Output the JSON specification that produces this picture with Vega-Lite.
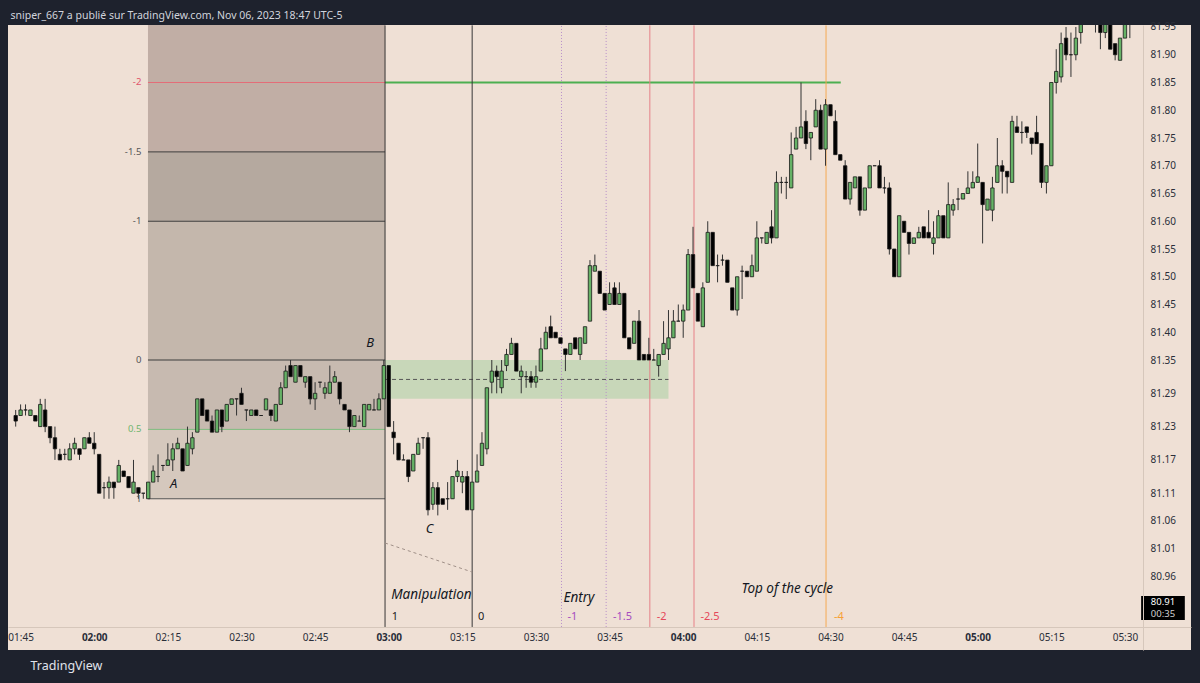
{
"$schema": "https://vega.github.io/schema/vega-lite/v6.json",
"width": 1183,
"height": 625,
"autosize": {"type": "none"},
"padding": {"left": 8, "top": 25, "right": 9, "bottom": 33},
"background": "#1e222d",
"view": {"fill": "#efe0d5", "stroke": null},
"config": {"font": "Noto Sans", "axis": {"labelOverlap": false, "grid": false, "ticks": false}},
"datasets": {
"zones": [
{"t": 130.95, "t2": 179.25, "p": 81.725, "p2": 82.1, "col": "#c1aea5"},
{"t": 130.95, "t2": 179.25, "p": 81.6, "p2": 81.725, "col": "#b5a99f"},
{"t": 130.95, "t2": 179.25, "p": 81.35, "p2": 81.6, "col": "#c4b7ac"},
{"t": 130.95, "t2": 179.25, "p": 81.225, "p2": 81.35, "col": "#c7bab0"},
{"t": 130.95, "t2": 179.25, "p": 81.1, "p2": 81.225, "col": "#d5c8bd"},
{"t": 179.25, "t2": 237.0, "p": 81.28, "p2": 81.35, "col": "#c8d7b9"},
{"t": 333.3, "t2": 342.2, "p": 80.8815, "p2": 80.9248, "col": "#000000"}
],
"hlines": [
{"t": 130.95, "t2": 179.25, "p": 81.85, "col": "#e46a78", "w": 1, "style": "solid"},
{"t": 130.95, "t2": 179.25, "p": 81.725, "col": "#3d3d3d", "w": 1, "style": "solid"},
{"t": 130.95, "t2": 179.25, "p": 81.6, "col": "#3d3d3d", "w": 1, "style": "solid"},
{"t": 130.95, "t2": 179.25, "p": 81.35, "col": "#3d3d3d", "w": 1, "style": "solid"},
{"t": 130.95, "t2": 179.25, "p": 81.225, "col": "#7cbd7c", "w": 1, "style": "solid"},
{"t": 130.95, "t2": 179.25, "p": 81.1, "col": "#555555", "w": 1, "style": "solid"},
{"t": 179.25, "t2": 272.1, "p": 81.85, "col": "#4caf50", "w": 2, "style": "solid"},
{"t": 179.25, "t2": 237.0, "p": 81.315, "col": "#555555", "w": 1, "style": "dash"}
],
"vlines": [
{"t": 179.25, "p": 80.869, "p2": 81.953, "col": "#333333", "style": "solid"},
{"t": 197.0, "p": 80.869, "p2": 81.953, "col": "#333333", "style": "solid"},
{"t": 215.2, "p": 80.869, "p2": 81.953, "col": "#b88fc9", "style": "dot"},
{"t": 224.3, "p": 80.869, "p2": 81.953, "col": "#b88fc9", "style": "dot"},
{"t": 233.2, "p": 80.869, "p2": 81.953, "col": "#e57f86", "style": "solid"},
{"t": 242.2, "p": 80.869, "p2": 81.953, "col": "#e57f86", "style": "solid"},
{"t": 269.1, "p": 80.869, "p2": 81.953, "col": "#f5a84f", "style": "solid"}
],
"diag": [
{"t": 179.25, "t2": 197.0, "p": 81.0203, "p2": 80.968}
],
"candles": [
{"t":104,"o":81.25,"h":81.26,"l":81.23,"c":81.24},
{"t":105,"o":81.25,"h":81.27,"l":81.25,"c":81.26},
{"t":106,"o":81.26,"h":81.27,"l":81.25,"c":81.26},
{"t":107,"o":81.25,"h":81.26,"l":81.25,"c":81.26},
{"t":108,"o":81.25,"h":81.25,"l":81.24,"c":81.24},
{"t":109,"o":81.23,"h":81.28,"l":81.23,"c":81.27},
{"t":110,"o":81.26,"h":81.28,"l":81.22,"c":81.23},
{"t":111,"o":81.23,"h":81.23,"l":81.20,"c":81.21},
{"t":112,"o":81.21,"h":81.23,"l":81.17,"c":81.19},
{"t":113,"o":81.18,"h":81.19,"l":81.17,"c":81.17},
{"t":114,"o":81.18,"h":81.19,"l":81.17,"c":81.18},
{"t":115,"o":81.17,"h":81.20,"l":81.17,"c":81.19},
{"t":116,"o":81.19,"h":81.21,"l":81.18,"c":81.20},
{"t":117,"o":81.19,"h":81.19,"l":81.17,"c":81.18},
{"t":118,"o":81.19,"h":81.21,"l":81.19,"c":81.21},
{"t":119,"o":81.21,"h":81.22,"l":81.20,"c":81.20},
{"t":120,"o":81.20,"h":81.22,"l":81.18,"c":81.19},
{"t":121,"o":81.18,"h":81.18,"l":81.11,"c":81.11},
{"t":122,"o":81.12,"h":81.13,"l":81.10,"c":81.12},
{"t":123,"o":81.12,"h":81.14,"l":81.10,"c":81.13},
{"t":124,"o":81.13,"h":81.13,"l":81.10,"c":81.12},
{"t":125,"o":81.13,"h":81.17,"l":81.13,"c":81.16},
{"t":126,"o":81.15,"h":81.15,"l":81.14,"c":81.14},
{"t":127,"o":81.14,"h":81.14,"l":81.12,"c":81.12},
{"t":128,"o":81.11,"h":81.17,"l":81.11,"c":81.13},
{"t":129,"o":81.12,"h":81.12,"l":81.10,"c":81.11},
{"t":130,"o":81.11,"h":81.11,"l":81.10,"c":81.11},
{"t":131,"o":81.10,"h":81.13,"l":81.10,"c":81.13},
{"t":132,"o":81.13,"h":81.16,"l":81.13,"c":81.15},
{"t":133,"o":81.14,"h":81.18,"l":81.13,"c":81.14},
{"t":134,"o":81.16,"h":81.16,"l":81.15,"c":81.16},
{"t":135,"o":81.16,"h":81.20,"l":81.16,"c":81.17},
{"t":136,"o":81.17,"h":81.20,"l":81.15,"c":81.19},
{"t":137,"o":81.19,"h":81.21,"l":81.19,"c":81.20},
{"t":138,"o":81.19,"h":81.19,"l":81.15,"c":81.15},
{"t":139,"o":81.16,"h":81.23,"l":81.16,"c":81.20},
{"t":140,"o":81.19,"h":81.22,"l":81.18,"c":81.21},
{"t":141,"o":81.22,"h":81.28,"l":81.22,"c":81.28},
{"t":142,"o":81.28,"h":81.28,"l":81.25,"c":81.25},
{"t":143,"o":81.26,"h":81.26,"l":81.24,"c":81.24},
{"t":144,"o":81.24,"h":81.25,"l":81.22,"c":81.22},
{"t":145,"o":81.22,"h":81.26,"l":81.22,"c":81.26},
{"t":146,"o":81.26,"h":81.26,"l":81.22,"c":81.23},
{"t":147,"o":81.24,"h":81.27,"l":81.24,"c":81.27},
{"t":148,"o":81.27,"h":81.28,"l":81.27,"c":81.28},
{"t":149,"o":81.28,"h":81.28,"l":81.25,"c":81.28},
{"t":150,"o":81.29,"h":81.30,"l":81.27,"c":81.27},
{"t":151,"o":81.26,"h":81.26,"l":81.24,"c":81.26},
{"t":152,"o":81.25,"h":81.26,"l":81.25,"c":81.26},
{"t":153,"o":81.26,"h":81.26,"l":81.25,"c":81.25},
{"t":154,"o":81.25,"h":81.25,"l":81.25,"c":81.25},
{"t":155,"o":81.26,"h":81.28,"l":81.26,"c":81.28},
{"t":156,"o":81.26,"h":81.26,"l":81.24,"c":81.25},
{"t":157,"o":81.24,"h":81.27,"l":81.24,"c":81.27},
{"t":158,"o":81.27,"h":81.31,"l":81.27,"c":81.30},
{"t":159,"o":81.30,"h":81.34,"l":81.30,"c":81.33},
{"t":160,"o":81.34,"h":81.35,"l":81.32,"c":81.32},
{"t":161,"o":81.31,"h":81.34,"l":81.31,"c":81.34},
{"t":162,"o":81.34,"h":81.34,"l":81.32,"c":81.32},
{"t":163,"o":81.31,"h":81.32,"l":81.30,"c":81.32},
{"t":164,"o":81.32,"h":81.32,"l":81.27,"c":81.28},
{"t":165,"o":81.28,"h":81.31,"l":81.26,"c":81.29},
{"t":166,"o":81.31,"h":81.31,"l":81.30,"c":81.31},
{"t":167,"o":81.29,"h":81.31,"l":81.28,"c":81.30},
{"t":168,"o":81.29,"h":81.34,"l":81.29,"c":81.31},
{"t":169,"o":81.31,"h":81.33,"l":81.31,"c":81.32},
{"t":170,"o":81.31,"h":81.31,"l":81.27,"c":81.28},
{"t":171,"o":81.27,"h":81.27,"l":81.26,"c":81.26},
{"t":172,"o":81.26,"h":81.26,"l":81.22,"c":81.23},
{"t":173,"o":81.23,"h":81.25,"l":81.23,"c":81.25},
{"t":174,"o":81.24,"h":81.25,"l":81.24,"c":81.24},
{"t":175,"o":81.23,"h":81.27,"l":81.23,"c":81.27},
{"t":176,"o":81.26,"h":81.27,"l":81.26,"c":81.27},
{"t":177,"o":81.26,"h":81.28,"l":81.26,"c":81.26},
{"t":178,"o":81.26,"h":81.29,"l":81.26,"c":81.28},
{"t":179,"o":81.28,"h":81.35,"l":81.28,"c":81.34},
{"t":180,"o":81.34,"h":81.34,"l":81.23,"c":81.23},
{"t":181,"o":81.22,"h":81.24,"l":81.18,"c":81.21},
{"t":182,"o":81.20,"h":81.20,"l":81.17,"c":81.17},
{"t":183,"o":81.17,"h":81.18,"l":81.17,"c":81.17},
{"t":184,"o":81.17,"h":81.17,"l":81.13,"c":81.14},
{"t":185,"o":81.15,"h":81.18,"l":81.15,"c":81.18},
{"t":186,"o":81.18,"h":81.21,"l":81.18,"c":81.20},
{"t":187,"o":81.21,"h":81.21,"l":81.19,"c":81.21},
{"t":188,"o":81.21,"h":81.22,"l":81.07,"c":81.08},
{"t":189,"o":81.09,"h":81.13,"l":81.08,"c":81.12},
{"t":190,"o":81.12,"h":81.13,"l":81.07,"c":81.09},
{"t":191,"o":81.10,"h":81.10,"l":81.09,"c":81.09},
{"t":192,"o":81.10,"h":81.13,"l":81.08,"c":81.10},
{"t":193,"o":81.10,"h":81.14,"l":81.10,"c":81.14},
{"t":194,"o":81.14,"h":81.17,"l":81.13,"c":81.15},
{"t":195,"o":81.13,"h":81.15,"l":81.11,"c":81.14},
{"t":196,"o":81.14,"h":81.15,"l":81.08,"c":81.08},
{"t":197,"o":81.08,"h":81.13,"l":81.08,"c":81.13},
{"t":198,"o":81.13,"h":81.18,"l":81.13,"c":81.15},
{"t":199,"o":81.16,"h":81.22,"l":81.16,"c":81.20},
{"t":200,"o":81.19,"h":81.30,"l":81.18,"c":81.30},
{"t":201,"o":81.31,"h":81.35,"l":81.29,"c":81.33},
{"t":202,"o":81.33,"h":81.34,"l":81.29,"c":81.32},
{"t":203,"o":81.30,"h":81.35,"l":81.29,"c":81.33},
{"t":204,"o":81.34,"h":81.37,"l":81.33,"c":81.36},
{"t":205,"o":81.36,"h":81.39,"l":81.36,"c":81.38},
{"t":206,"o":81.38,"h":81.38,"l":81.33,"c":81.33},
{"t":207,"o":81.32,"h":81.34,"l":81.29,"c":81.33},
{"t":208,"o":81.32,"h":81.33,"l":81.30,"c":81.32},
{"t":209,"o":81.32,"h":81.33,"l":81.30,"c":81.31},
{"t":210,"o":81.31,"h":81.34,"l":81.30,"c":81.32},
{"t":211,"o":81.33,"h":81.39,"l":81.33,"c":81.37},
{"t":212,"o":81.37,"h":81.41,"l":81.37,"c":81.40},
{"t":213,"o":81.41,"h":81.43,"l":81.39,"c":81.39},
{"t":214,"o":81.40,"h":81.40,"l":81.39,"c":81.39},
{"t":215,"o":81.39,"h":81.39,"l":81.38,"c":81.38},
{"t":216,"o":81.37,"h":81.37,"l":81.33,"c":81.36},
{"t":217,"o":81.36,"h":81.38,"l":81.36,"c":81.38},
{"t":218,"o":81.39,"h":81.39,"l":81.37,"c":81.37},
{"t":219,"o":81.36,"h":81.39,"l":81.35,"c":81.39},
{"t":220,"o":81.38,"h":81.41,"l":81.38,"c":81.41},
{"t":221,"o":81.42,"h":81.53,"l":81.42,"c":81.52},
{"t":222,"o":81.51,"h":81.54,"l":81.51,"c":81.52},
{"t":223,"o":81.51,"h":81.51,"l":81.47,"c":81.47},
{"t":224,"o":81.47,"h":81.47,"l":81.44,"c":81.44},
{"t":225,"o":81.45,"h":81.49,"l":81.45,"c":81.47},
{"t":226,"o":81.48,"h":81.49,"l":81.45,"c":81.45},
{"t":227,"o":81.45,"h":81.49,"l":81.45,"c":81.47},
{"t":228,"o":81.47,"h":81.47,"l":81.39,"c":81.39},
{"t":229,"o":81.39,"h":81.39,"l":81.37,"c":81.37},
{"t":230,"o":81.38,"h":81.42,"l":81.38,"c":81.42},
{"t":231,"o":81.42,"h":81.44,"l":81.35,"c":81.35},
{"t":232,"o":81.36,"h":81.36,"l":81.35,"c":81.35},
{"t":233,"o":81.36,"h":81.39,"l":81.35,"c":81.35},
{"t":234,"o":81.35,"h":81.37,"l":81.35,"c":81.35},
{"t":235,"o":81.34,"h":81.36,"l":81.32,"c":81.36},
{"t":236,"o":81.36,"h":81.42,"l":81.36,"c":81.38},
{"t":237,"o":81.37,"h":81.44,"l":81.35,"c":81.39},
{"t":238,"o":81.39,"h":81.44,"l":81.39,"c":81.42},
{"t":239,"o":81.42,"h":81.45,"l":81.42,"c":81.42},
{"t":240,"o":81.42,"h":81.45,"l":81.39,"c":81.44},
{"t":241,"o":81.44,"h":81.55,"l":81.44,"c":81.54},
{"t":242,"o":81.54,"h":81.59,"l":81.48,"c":81.48},
{"t":243,"o":81.47,"h":81.47,"l":81.42,"c":81.42},
{"t":244,"o":81.41,"h":81.49,"l":81.41,"c":81.48},
{"t":245,"o":81.49,"h":81.60,"l":81.49,"c":81.58},
{"t":246,"o":81.58,"h":81.58,"l":81.52,"c":81.52},
{"t":247,"o":81.52,"h":81.54,"l":81.49,"c":81.52},
{"t":248,"o":81.53,"h":81.54,"l":81.52,"c":81.53},
{"t":249,"o":81.53,"h":81.53,"l":81.49,"c":81.49},
{"t":250,"o":81.48,"h":81.48,"l":81.44,"c":81.44},
{"t":251,"o":81.44,"h":81.50,"l":81.43,"c":81.50},
{"t":252,"o":81.51,"h":81.52,"l":81.46,"c":81.51},
{"t":253,"o":81.51,"h":81.51,"l":81.50,"c":81.50},
{"t":254,"o":81.50,"h":81.54,"l":81.50,"c":81.52},
{"t":255,"o":81.51,"h":81.60,"l":81.51,"c":81.57},
{"t":256,"o":81.57,"h":81.57,"l":81.56,"c":81.57},
{"t":257,"o":81.56,"h":81.58,"l":81.56,"c":81.58},
{"t":258,"o":81.59,"h":81.62,"l":81.56,"c":81.57},
{"t":259,"o":81.57,"h":81.69,"l":81.57,"c":81.67},
{"t":260,"o":81.67,"h":81.68,"l":81.65,"c":81.67},
{"t":261,"o":81.67,"h":81.68,"l":81.64,"c":81.67},
{"t":262,"o":81.66,"h":81.76,"l":81.66,"c":81.72},
{"t":263,"o":81.73,"h":81.77,"l":81.73,"c":81.75},
{"t":264,"o":81.75,"h":81.85,"l":81.75,"c":81.77},
{"t":265,"o":81.78,"h":81.80,"l":81.73,"c":81.74},
{"t":266,"o":81.75,"h":81.76,"l":81.71,"c":81.76},
{"t":267,"o":81.77,"h":81.82,"l":81.77,"c":81.80},
{"t":268,"o":81.80,"h":81.81,"l":81.73,"c":81.73},
{"t":269,"o":81.73,"h":81.82,"l":81.70,"c":81.81},
{"t":270,"o":81.81,"h":81.81,"l":81.79,"c":81.79},
{"t":271,"o":81.78,"h":81.80,"l":81.72,"c":81.72},
{"t":272,"o":81.72,"h":81.72,"l":81.71,"c":81.71},
{"t":273,"o":81.70,"h":81.71,"l":81.64,"c":81.64},
{"t":274,"o":81.64,"h":81.67,"l":81.63,"c":81.67},
{"t":275,"o":81.66,"h":81.68,"l":81.66,"c":81.68},
{"t":276,"o":81.68,"h":81.68,"l":81.61,"c":81.62},
{"t":277,"o":81.62,"h":81.66,"l":81.62,"c":81.66},
{"t":278,"o":81.66,"h":81.70,"l":81.66,"c":81.70},
{"t":279,"o":81.70,"h":81.70,"l":81.70,"c":81.70},
{"t":280,"o":81.70,"h":81.71,"l":81.66,"c":81.66},
{"t":281,"o":81.66,"h":81.68,"l":81.65,"c":81.66},
{"t":282,"o":81.66,"h":81.67,"l":81.54,"c":81.55},
{"t":283,"o":81.55,"h":81.55,"l":81.50,"c":81.50},
{"t":284,"o":81.50,"h":81.61,"l":81.50,"c":81.61},
{"t":285,"o":81.60,"h":81.60,"l":81.58,"c":81.58},
{"t":286,"o":81.58,"h":81.58,"l":81.54,"c":81.56},
{"t":287,"o":81.56,"h":81.57,"l":81.56,"c":81.57},
{"t":288,"o":81.57,"h":81.59,"l":81.57,"c":81.58},
{"t":289,"o":81.59,"h":81.59,"l":81.57,"c":81.57},
{"t":290,"o":81.58,"h":81.62,"l":81.57,"c":81.57},
{"t":291,"o":81.56,"h":81.60,"l":81.54,"c":81.57},
{"t":292,"o":81.57,"h":81.62,"l":81.57,"c":81.61},
{"t":293,"o":81.61,"h":81.61,"l":81.57,"c":81.57},
{"t":294,"o":81.57,"h":81.67,"l":81.57,"c":81.63},
{"t":295,"o":81.62,"h":81.64,"l":81.61,"c":81.63},
{"t":296,"o":81.64,"h":81.66,"l":81.62,"c":81.64},
{"t":297,"o":81.64,"h":81.65,"l":81.64,"c":81.65},
{"t":298,"o":81.65,"h":81.69,"l":81.65,"c":81.66},
{"t":299,"o":81.66,"h":81.69,"l":81.66,"c":81.67},
{"t":300,"o":81.67,"h":81.74,"l":81.67,"c":81.68},
{"t":301,"o":81.67,"h":81.67,"l":81.56,"c":81.63},
{"t":302,"o":81.62,"h":81.64,"l":81.62,"c":81.64},
{"t":303,"o":81.62,"h":81.68,"l":81.60,"c":81.66},
{"t":304,"o":81.67,"h":81.75,"l":81.67,"c":81.70},
{"t":305,"o":81.70,"h":81.71,"l":81.65,"c":81.69},
{"t":306,"o":81.69,"h":81.69,"l":81.65,"c":81.68},
{"t":307,"o":81.67,"h":81.79,"l":81.67,"c":81.78},
{"t":308,"o":81.77,"h":81.79,"l":81.76,"c":81.76},
{"t":309,"o":81.76,"h":81.78,"l":81.74,"c":81.76},
{"t":310,"o":81.77,"h":81.77,"l":81.75,"c":81.76},
{"t":311,"o":81.75,"h":81.75,"l":81.72,"c":81.74},
{"t":312,"o":81.76,"h":81.79,"l":81.74,"c":81.74},
{"t":313,"o":81.74,"h":81.74,"l":81.66,"c":81.67},
{"t":314,"o":81.67,"h":81.70,"l":81.65,"c":81.70},
{"t":315,"o":81.70,"h":81.85,"l":81.70,"c":81.85},
{"t":316,"o":81.85,"h":81.91,"l":81.83,"c":81.87},
{"t":317,"o":81.86,"h":81.94,"l":81.85,"c":81.92},
{"t":318,"o":81.93,"h":81.95,"l":81.89,"c":81.90},
{"t":319,"o":81.90,"h":81.94,"l":81.86,"c":81.90},
{"t":320,"o":81.90,"h":81.95,"l":81.89,"c":81.93},
{"t":321,"o":81.94,"h":81.98,"l":81.92,"c":81.96},
{"t":322,"o":81.96,"h":82.00,"l":81.96,"c":81.99},
{"t":323,"o":81.99,"h":82.00,"l":81.96,"c":81.97},
{"t":324,"o":81.97,"h":81.99,"l":81.94,"c":81.97},
{"t":325,"o":81.97,"h":81.98,"l":81.91,"c":81.94},
{"t":326,"o":81.94,"h":81.98,"l":81.93,"c":81.97},
{"t":327,"o":81.97,"h":81.98,"l":81.91,"c":81.91},
{"t":328,"o":81.92,"h":81.92,"l":81.89,"c":81.90},
{"t":329,"o":81.89,"h":81.93,"l":81.89,"c":81.93},
{"t":330,"o":81.93,"h":81.97,"l":81.93,"c":81.96},
{"t":331,"o":81.96,"h":81.99,"l":81.93,"c":81.98}
],
"italicCenter": [
{"t": 136.2, "p": 81.1266, "txt": "A"},
{"t": 176.2, "p": 81.381, "txt": "B"},
{"t": 188.3, "p": 81.0455, "txt": "C"}
],
"italicLeft": [
{"t": 180.5, "p": 80.9266, "txt": "Manipulation"},
{"t": 215.6, "p": 80.9212, "txt": "Entry"},
{"t": 251.9, "p": 80.9374, "txt": "Top of the cycle"}
],
"fibLabels": [
{"t": 129.6, "p": 81.85, "txt": "-2", "col": "#e0566a"},
{"t": 129.6, "p": 81.725, "txt": "-1.5", "col": "#555555"},
{"t": 129.6, "p": 81.6, "txt": "-1", "col": "#555555"},
{"t": 129.6, "p": 81.35, "txt": "0", "col": "#555555"},
{"t": 129.6, "p": 81.225, "txt": "0.5", "col": "#6fb56f"},
{"t": 129.6, "p": 81.1, "txt": "1", "col": "#555555"}
],
"timeLabels": [
{"t": 180.6, "p": 80.887, "txt": "1", "col": "#222222"},
{"t": 198.2, "p": 80.887, "txt": "0", "col": "#222222"},
{"t": 216.4, "p": 80.887, "txt": "-1", "col": "#a64dbf"},
{"t": 225.7, "p": 80.887, "txt": "-1.5", "col": "#a64dbf"},
{"t": 234.6, "p": 80.887, "txt": "-2", "col": "#e5485a"},
{"t": 243.5, "p": 80.887, "txt": "-2.5", "col": "#e5485a"},
{"t": 270.7, "p": 80.887, "txt": "-4", "col": "#f7a035"}
],
"priceBox": [
{"t": 337.75, "p": 80.9135, "txt": "80.91", "col": "#ffffff", "wt": "bold"},
{"t": 337.75, "p": 80.8925, "txt": "00:35", "col": "#d0d0d0", "wt": "normal"}
]
},
"layer": [
{
"data": {"name": "zones"},
"mark": {"type": "rect", "clip": true},
"encoding": {
"x": {"field": "t", "type": "quantitative", "scale": {"domain": [103.45, 342.44], "nice": false, "zero": false},
"axis": {"orient": "bottom", "offset": -23, "values": [105,120,135,150,165,180,195,210,225,240,255,270,285,300,315,330], "tickCount": 60, "labelExpr": "utcFormat(datum.value * 60000, '%H:%M')", "labelFontWeight": {"condition": {"test": "datum.value % 60 === 0", "value": "bold"}, "value": "normal"}, "labelFont": "Noto Sans", "labelFontSize": 10, "labelColor": "#2a2e39", "labelPadding": 5, "labelFlush": false, "labelOverlap": false, "labelBound": false, "ticks": false, "tickSize": 0, "grid": false, "domain": true, "domainColor": "#d6c7bb", "title": "TradingView", "titleAnchor": "start", "titleAlign": "left", "titleAngle": 0, "titleX": 22, "titleY": 38, "titleBaseline": "middle", "titleColor": "#e0e3eb", "titleFontSize": 12.5, "titleFontWeight": "normal", "titleFont": "Noto Sans", "zindex": 1}},
"x2": {"field": "t2"},
"y": {"field": "p", "type": "quantitative", "scale": {"domain": [80.8275, 81.9536], "nice": false, "zero": false},
"axis": {"orient": "right", "offset": -48, "values": [80.96,81.01,81.06,81.11,81.17,81.23,81.29,81.35,81.4,81.45,81.5,81.55,81.6,81.65,81.7,81.75,81.8,81.85,81.9,81.95], "tickCount": 60, "format": ".2f", "labelFont": "Noto Sans", "labelFontSize": 10, "labelColor": "#2a2e39", "labelPadding": 7, "ticks": false, "tickSize": 0, "grid": false, "domain": true, "domainColor": "#d6c7bb", "labelOverlap": false, "labelBound": false, "labelFlush": false, "title": "sniper_667 a publié sur TradingView.com, Nov 06, 2023 18:47 UTC-5", "titleAngle": 0, "titleAlign": "left", "titleAnchor": "start", "titleBaseline": "alphabetic", "titleX": -1133, "titleY": -7, "titleColor": "#d1d4dc", "titleFontSize": 10.5, "titleFontWeight": "normal", "titleFont": "Noto Sans", "zindex": 1}},
"y2": {"field": "p2"},
"fill": {"field": "col", "type": "nominal", "scale": null}
}
},
{
"data": {"name": "hlines"},
"mark": {"type": "rule", "clip": true},
"encoding": {
"x": {"field": "t", "type": "quantitative"},
"x2": {"field": "t2"},
"y": {"field": "p", "type": "quantitative"},
"color": {"field": "col", "type": "nominal", "scale": null},
"strokeWidth": {"field": "w", "type": "quantitative", "scale": null},
"strokeDash": {"field": "style", "type": "nominal", "scale": {"domain": ["solid", "dot", "dash"], "range": [[1, 0], [1, 2], [4, 3]]}, "legend": null}
}
},
{
"data": {"name": "vlines"},
"mark": {"type": "rule", "clip": true, "strokeWidth": 1},
"encoding": {
"x": {"field": "t", "type": "quantitative"},
"y": {"field": "p", "type": "quantitative"},
"y2": {"field": "p2"},
"color": {"field": "col", "type": "nominal", "scale": null},
"strokeDash": {"field": "style", "type": "nominal", "scale": {"domain": ["solid", "dot", "dash"], "range": [[1, 0], [1, 2], [4, 3]]}, "legend": null}
}
},
{
"data": {"name": "diag"},
"mark": {"type": "rule", "clip": true, "color": "#a09088", "strokeDash": [3, 3], "strokeWidth": 1},
"encoding": {
"x": {"field": "t", "type": "quantitative"},
"x2": {"field": "t2"},
"y": {"field": "p", "type": "quantitative"},
"y2": {"field": "p2"}
}
},
{
"data": {"name": "candles"},
"mark": {"type": "rule", "clip": true, "color": "#333333", "strokeWidth": 1},
"encoding": {
"x": {"field": "t", "type": "quantitative"},
"y": {"field": "l", "type": "quantitative"},
"y2": {"field": "h"}
}
},
{
"data": {"name": "candles"},
"mark": {"type": "bar", "clip": true, "orient": "vertical", "width": 3.4, "stroke": "#1a1a1a", "strokeWidth": 0.8},
"encoding": {
"x": {"field": "t", "type": "quantitative"},
"y": {"field": "o", "type": "quantitative"},
"y2": {"field": "c"},
"fill": {"condition": {"test": "datum.c >= datum.o", "value": "#66b266"}, "value": "#000000"}
}
},
{
"data": {"name": "italicCenter"},
"mark": {"type": "text", "clip": true, "font": "Noto Sans", "fontStyle": "italic", "fontSize": 13, "align": "center", "baseline": "middle", "color": "#131722"},
"encoding": {
"x": {"field": "t", "type": "quantitative"},
"y": {"field": "p", "type": "quantitative"},
"text": {"field": "txt"}
}
},
{
"data": {"name": "italicLeft"},
"mark": {"type": "text", "clip": true, "font": "Noto Sans", "fontStyle": "italic", "fontSize": 13.5, "align": "left", "baseline": "middle", "color": "#131722"},
"encoding": {
"x": {"field": "t", "type": "quantitative"},
"y": {"field": "p", "type": "quantitative"},
"text": {"field": "txt"}
}
},
{
"data": {"name": "fibLabels"},
"mark": {"type": "text", "clip": true, "font": "Noto Sans", "fontSize": 9.5, "align": "right", "baseline": "middle"},
"encoding": {
"x": {"field": "t", "type": "quantitative"},
"y": {"field": "p", "type": "quantitative"},
"text": {"field": "txt"},
"color": {"field": "col", "type": "nominal", "scale": null}
}
},
{
"data": {"name": "timeLabels"},
"mark": {"type": "text", "clip": true, "font": "Noto Sans", "fontSize": 11, "align": "left", "baseline": "middle"},
"encoding": {
"x": {"field": "t", "type": "quantitative"},
"y": {"field": "p", "type": "quantitative"},
"text": {"field": "txt"},
"color": {"field": "col", "type": "nominal", "scale": null}
}
},
{
"data": {"name": "priceBox"},
"mark": {"type": "text", "clip": true, "font": "Noto Sans", "fontSize": 9.5, "align": "center", "baseline": "middle"},
"encoding": {
"x": {"field": "t", "type": "quantitative"},
"y": {"field": "p", "type": "quantitative"},
"text": {"field": "txt"},
"color": {"field": "col", "type": "nominal", "scale": null},
"fontWeight": {"field": "wt", "type": "nominal", "scale": null}
}
}
]
}
